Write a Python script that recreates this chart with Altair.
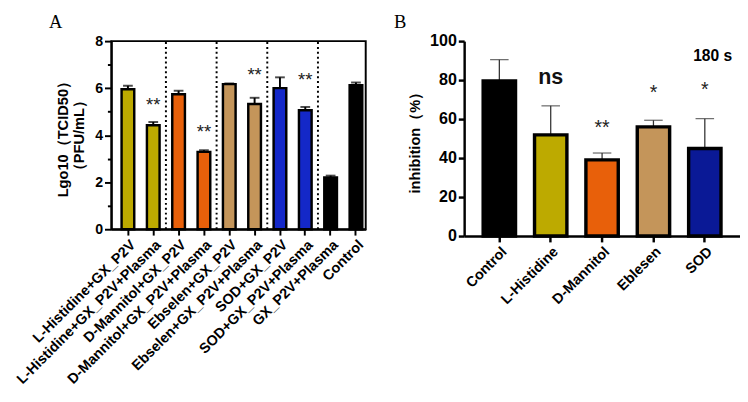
import altair as alt
import pandas as pd

# ---------------- Panel A data ----------------
cats_a = ["L-Histidine+GX_P2V", "L-Histidine+GX_P2V+Plasma", "D-Mannitol+GX_P2V",
          "D-Mannitol+GX_P2V+Plasma", "Ebselen+GX_P2V", "Ebselen+GX_P2V+Plasma",
          "SOD+GX_P2V", "SOD+GX_P2V+Plasma", "GX_P2V+Plasma", "Control"]
vals_a = [5.95, 4.42, 5.74, 3.29, 6.17, 5.33, 6.00, 5.06, 2.20, 6.13]
errs_a = [0.15, 0.14, 0.15, 0.07, 0.03, 0.26, 0.46, 0.14, 0.08, 0.11]
colors_a = ["#BDAA00", "#BDAA00", "#E8600A", "#E8600A", "#C4955A", "#C4955A",
            "#1428C8", "#1428C8", "#000000", "#000000"]
sig_a_cats = ["L-Histidine+GX_P2V+Plasma", "D-Mannitol+GX_P2V+Plasma",
              "Ebselen+GX_P2V+Plasma", "SOD+GX_P2V+Plasma"]
sig_a_y = [5.5, 4.33, 6.75, 6.54]
sig_a_txt = ["**", "**", "**", "**"]
sep_a_after = ["L-Histidine+GX_P2V+Plasma", "D-Mannitol+GX_P2V+Plasma",
               "Ebselen+GX_P2V+Plasma", "SOD+GX_P2V+Plasma"]

# ---------------- Panel B data ----------------
cats_b = ["Control", "L-Histidine", "D-Mannitol", "Eblesen", "SOD"]
vals_b = [79.6, 51.9, 39.1, 56.0, 44.9]
errs_b = [10.9, 14.9, 3.5, 3.4, 15.3]
colors_b = ["#000000", "#BDAA00", "#E8600A", "#C4955A", "#0A1996"]
ns_b_cats = ["L-Histidine"]
ns_b_y = [81.6]
ns_b_txt = ["ns"]
star_b_cats = ["D-Mannitol", "Eblesen", "SOD"]
star_b_y = [57.7, 75.6, 77.6]
star_b_txt = ["**", "*", "*"]
note_b_cats = ["SOD"]
note_b_y = [92.5]
note_b_txt = ["180 s"]

FONT = "Liberation Sans"

df_a = pd.DataFrame({"cat": cats_a, "val": vals_a, "col": colors_a,
                     "hi": [v + e for v, e in zip(vals_a, errs_a)]})
df_sig_a = pd.DataFrame({"cat": sig_a_cats, "y": sig_a_y, "t": sig_a_txt})
df_sep_a = pd.DataFrame({"cat": sep_a_after})

df_b = pd.DataFrame({"cat": cats_b, "val": vals_b, "col": colors_b,
                     "hi": [v + e for v, e in zip(vals_b, errs_b)]})
df_ns_b = pd.DataFrame({"cat": ns_b_cats, "y": ns_b_y, "t": ns_b_txt})
df_star_b = pd.DataFrame({"cat": star_b_cats, "y": star_b_y, "t": star_b_txt})
df_note_b = pd.DataFrame({"cat": note_b_cats, "y": note_b_y, "t": note_b_txt})

# ---------------- Panel A ----------------
xa_scale = alt.Scale(domain=cats_a, paddingInner=0.5, paddingOuter=0.27, align=0.75)
ya_scale = alt.Scale(domain=[0, 8], nice=False)
xa_axis = alt.Axis(title=None, labelAngle=-45, labelFontSize=14.7, labelLimit=0,
                   labelFontWeight="bold", labelFont=FONT, labelColor="black",
                   tickSize=6, tickWidth=2, tickColor="black",
                   domainWidth=2, domainColor="black", labelPadding=2)
ya_axis = alt.Axis(title=["Lgo10（TCID50）", "（PFU/mL）"], titleFontSize=15,
                   titleFont=FONT, titleFontWeight="bold", titleColor="black",
                   values=[0, 1, 2, 3, 4, 5, 6, 7, 8], labelOverlap=False,
                   labelExpr="datum.value % 2 === 0 ? datum.label : ''",
                   labelFontSize=14.5, labelFontWeight="bold", labelFont=FONT,
                   labelColor="black",
                   tickSize={"condition": {"test": "datum.value % 2 === 1", "value": 4},
                             "value": 7},
                   tickWidth=2, tickColor="black", domainWidth=2,
                   domainColor="black", grid=False, titlePadding=8)


def xa(bp=None):
    if bp is None:
        return alt.X("cat:N", sort=cats_a, scale=xa_scale, axis=xa_axis)
    return alt.X("cat:N", sort=cats_a, scale=xa_scale, axis=xa_axis, bandPosition=bp)


def ya(field):
    return alt.Y(field, scale=ya_scale, axis=ya_axis)


base_a = alt.Chart(df_a)
err_a = base_a.mark_rule(color="black", strokeWidth=2).encode(
    x=xa(), y=ya("val:Q"), y2="hi:Q")
cap_a = base_a.mark_tick(color="black", thickness=2, size=10).encode(
    x=xa(), y=ya("hi:Q"))
bars_a = base_a.mark_bar(stroke="black", strokeWidth=2.5).encode(
    x=xa(), y=ya("val:Q"), color=alt.Color("col:N", scale=None, legend=None))
sep_a = alt.Chart(df_sep_a).mark_rule(color="black", strokeWidth=2,
                                      strokeDash=[2, 3], xOffset=6.5).encode(
    x=xa(1), y=alt.datum(0, scale=ya_scale, axis=ya_axis), y2=alt.datum(8))
txt_a = alt.Chart(df_sig_a).mark_text(fontSize=19, color="#222222", font=FONT,
                                      baseline="middle", dy=5).encode(
    x=xa(), y=ya("y:Q"), text="t:N")

panel_a = alt.layer(sep_a, err_a, cap_a, bars_a, txt_a).properties(
    width=261, height=193,
    view=alt.ViewBackground(stroke="black", strokeWidth=2),
    title=alt.TitleParams("A", anchor="start", frame="group", font="Liberation Serif",
                          fontSize=19, fontWeight="normal", color="black",
                          dx=-64, offset=1))

# ---------------- Panel B ----------------
xb_scale = alt.Scale(domain=cats_b, paddingInner=0.37, paddingOuter=0.37)
yb_scale = alt.Scale(domain=[0, 100], nice=False)
xb_axis = alt.Axis(title=None, labelAngle=-45, labelFontSize=14.7, labelLimit=0,
                   labelFontWeight="bold", labelFont=FONT, labelColor="black",
                   tickSize=6, tickWidth=2.5, tickColor="black",
                   domainWidth=2.5, domainColor="black", labelPadding=2)
yb_axis = alt.Axis(title="inhibition（%）", titleFontSize=15, titleFont=FONT,
                   titleFontWeight="bold", titleColor="black",
                   values=[0, 20, 40, 60, 80, 100], labelOverlap=False,
                   labelFontSize=16.5, labelFontWeight="bold", labelFont=FONT,
                   labelColor="black", tickSize=6, tickWidth=2.5, tickColor="black",
                   domainWidth=2.5, domainColor="black", grid=False, titlePadding=7)


def xb():
    return alt.X("cat:N", sort=cats_b, scale=xb_scale, axis=xb_axis)


def yb(field):
    return alt.Y(field, scale=yb_scale, axis=yb_axis)


base_b = alt.Chart(df_b)
err_b = base_b.mark_rule(color="#333333", strokeWidth=1.3).encode(
    x=xb(), y=yb("val:Q"), y2="hi:Q")
cap_b = base_b.mark_tick(color="#333333", thickness=1.3, size=19).encode(
    x=xb(), y=yb("hi:Q"))
bars_b = base_b.mark_bar(stroke="black", strokeWidth=3.5).encode(
    x=xb(), y=yb("val:Q"), color=alt.Color("col:N", scale=None, legend=None))
ns_b = alt.Chart(df_ns_b).mark_text(color="#111111", font=FONT, fontSize=22,
                                    fontWeight="bold", baseline="middle").encode(
    x=xb(), y=yb("y:Q"), text="t:N")
star_b = alt.Chart(df_star_b).mark_text(color="#222222", font=FONT, fontSize=20,
                                        baseline="middle", dy=5).encode(
    x=xb(), y=yb("y:Q"), text="t:N")
note_b = alt.Chart(df_note_b).mark_text(
    fontSize=16, fontWeight="bold", font=FONT, color="black", dx=8,
    baseline="middle").encode(x=xb(), y=yb("y:Q"), text="t:N")

panel_b = alt.layer(err_b, cap_b, bars_b, ns_b, star_b, note_b).properties(
    width=283, height=200,
    view=alt.ViewBackground(stroke=None),
    title=alt.TitleParams("B", anchor="start", frame="group", font="Liberation Serif",
                          fontSize=19, fontWeight="normal", color="black",
                          dx=-72, offset=1))

chart = alt.hconcat(panel_a, panel_b, spacing=28).resolve_scale(
    color="independent").configure(
    padding={"left": 4, "top": 0, "right": 0, "bottom": 0},
    font=FONT, background="white")

chart.save("out.html", embed_options={"renderer": "svg", "actions": False})
